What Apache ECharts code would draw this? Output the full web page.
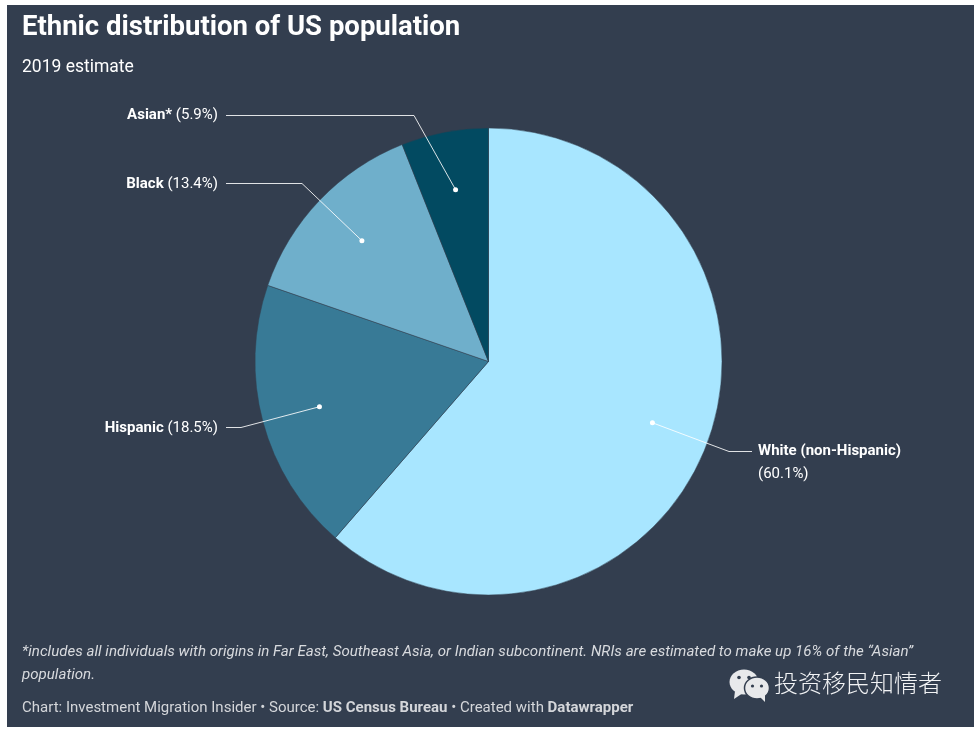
<!DOCTYPE html>
<html><head><meta charset="utf-8">
<style>html,body{margin:0;padding:0;background:#fff}#c{width:974px;height:730px}</style>
<script src="https://cdn.jsdelivr.net/npm/echarts@6/dist/echarts.min.js"></script>
</head><body><div id="c"></div>
<script>
const categories = ['White (non-Hispanic)', 'Hispanic', 'Black', 'Asian*'];
const shares = [60.1, 18.5, 13.4, 5.9];
const sliceColors = ['#a8e6ff', '#387a96', '#6fafcb', '#024a61'];
const labelAnchors = [[758, 451], [218, 428], [218, 184], [218, 115]];
const elbows = [[[752, 451.5], [729, 451.5]], [[226, 427.5], [241, 427.5]], [[226, 183.5], [302, 183.5]], [[226, 115.5], [414, 115.5]]];
const titleText = 'Ethnic distribution of US population';
const subtitleText = '2019 estimate';
const noteLines = ['*includes all individuals with origins in Far East, Southeast Asia, or Indian subcontinent. NRIs are estimated to make up 16% of the “Asian”', 'population.'];
const watermark = '投资移民知情者';

const BG = '#333e4f', FONT = 'Roboto, sans-serif';
const CX = 488.5, CY = 361.5, R = 233.5, DOT_R = 175;
const total = shares.reduce((a, b) => a + b, 0);
function dotPoint(i) {
  let before = 0;
  for (let k = 0; k < i; k++) before += shares[k];
  const a = (before + shares[i] / 2) / total * 2 * Math.PI;
  return [CX + DOT_R * Math.sin(a), CY - DOT_R * Math.cos(a)];
}
const chart = echarts.init(document.getElementById('c'), null, {renderer: 'canvas'});
chart.setOption({
  backgroundColor: '#fff',
  animation: false,
  graphic: [
    {type: 'rect', z: -10, silent: true, shape: {x: 7, y: 5, width: 967, height: 722}, style: {fill: BG}},
    {type: 'text', left: 22, top: 14, style: {text: titleText, fill: '#fff', font: '700 27.5px ' + FONT}},
    {type: 'text', left: 22, top: 59, style: {text: subtitleText, fill: '#fff', font: '400 17.5px ' + FONT}},
    {type: 'text', left: 22, top: 645, style: {text: noteLines[0], fill: '#d8dade', font: 'italic 400 15.1px ' + FONT}},
    {type: 'text', left: 22, top: 668, style: {text: noteLines[1], fill: '#d8dade', font: 'italic 400 15.1px ' + FONT}},
    {type: 'text', left: 22, top: 701, style: {
      text: '{n|Chart: Investment Migration Insider • Source: }{b|US Census Bureau}{n| • Created with }{b|Datawrapper}',
      rich: {n: {fill: '#d4d6da', font: '400 15px ' + FONT}, b: {fill: '#d4d6da', font: '700 15px ' + FONT}}
    }},
    {type: 'text', left: 774, top: 671, style: {text: watermark, fill: '#f2f3f5', font: '300 24px "Noto Sans CJK SC", sans-serif'}},
    {type: 'group', children: [
      {type: 'ellipse', shape: {cx: 744, cy: 682, rx: 14.5, ry: 12.5}, style: {fill: '#e8e9eb'}},
      {type: 'polygon', shape: {points: [[735, 691], [734, 699], [743, 693]]}, style: {fill: '#e8e9eb'}},
      {type: 'circle', shape: {cx: 739, cy: 677.5, r: 1.8}, style: {fill: BG}},
      {type: 'circle', shape: {cx: 749, cy: 677.5, r: 1.8}, style: {fill: BG}},
      {type: 'ellipse', shape: {cx: 757, cy: 688, rx: 12.5, ry: 11}, style: {fill: '#e8e9eb', stroke: BG, lineWidth: 1.5}},
      {type: 'polygon', shape: {points: [[760, 697], [765, 702], [765, 694]]}, style: {fill: '#e8e9eb'}},
      {type: 'circle', shape: {cx: 752.5, cy: 686, r: 1.6}, style: {fill: BG}},
      {type: 'circle', shape: {cx: 761.5, cy: 686, r: 1.6}, style: {fill: BG}}
    ]}
  ],
  series: [{
    type: 'pie',
    center: [CX, CY],
    radius: [0, R],
    startAngle: 90,
    clockwise: true,
    avoidLabelOverlap: false,
    silent: true,
    itemStyle: {borderColor: BG, borderWidth: 0.5},
    data: categories.map((name, i) => ({value: shares[i], name, itemStyle: {color: sliceColors[i]}})),
    label: {
      show: true, position: 'outside', color: '#fff', fontFamily: FONT, fontSize: 15, lineHeight: 23,
      formatter: p => p.dataIndex === 0
        ? `{b|${p.name}}\n(${p.value}%)`
        : `{b|${p.name}} (${p.value}%)`,
      rich: {b: {fontWeight: 700, fontFamily: FONT, fontSize: 15, color: '#fff', lineHeight: 23}}
    },
    labelLine: {show: false},
    labelLayout: p => {
      const i = p.dataIndex, a = labelAnchors[i];
      return {
        x: a[0], y: i === 0 ? a[1] + 11.5 : a[1],
        align: i === 0 ? 'left' : 'right',
        verticalAlign: 'middle'
      };
    }
  }, {
    type: 'custom',
    coordinateSystem: 'none',
    silent: true,
    z: 10,
    data: shares.map((v, i) => [i]),
    renderItem: (params, api) => {
      const i = api.value(0), d = dotPoint(i);
      return {type: 'group', children: [
        {type: 'polyline', shape: {points: [d, elbows[i][1], elbows[i][0]]}, style: {fill: 'none', stroke: 'rgba(255,255,255,0.85)', lineWidth: 1}},
        {type: 'circle', shape: {cx: d[0], cy: d[1], r: 2.5}, style: {fill: '#fff'}}
      ]};
    }
  }]
});
</script></body></html>
